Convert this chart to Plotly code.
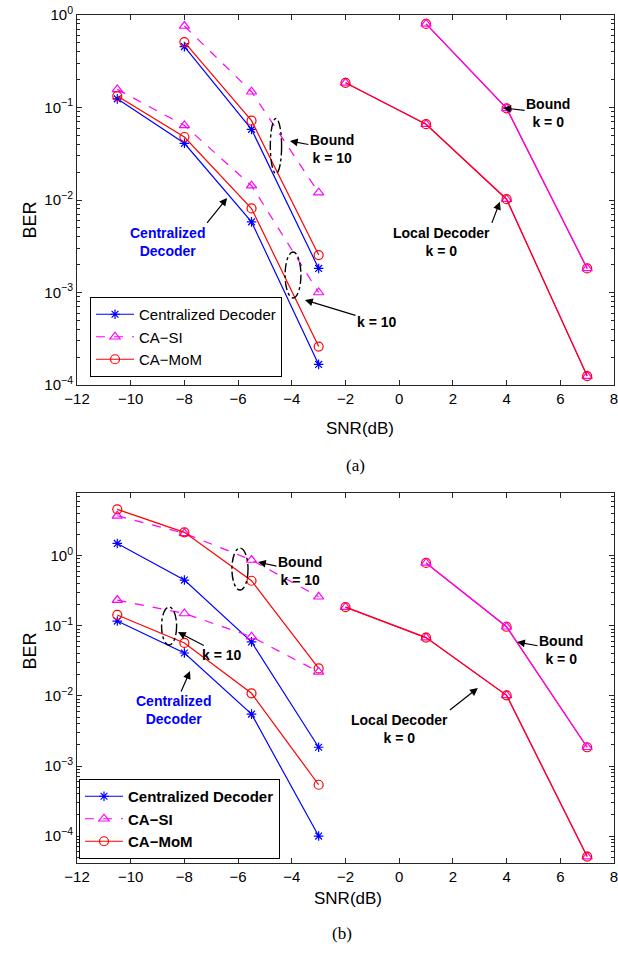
import plotly.graph_objects as go

# ---------------- data ----------------
snr_k10 = [-10.5, -8, -5.5, -3]
snr_bound10_a = [-8, -5.5, -3]
snr_bound10_b = [-10.5, -8, -5.5, -3]
snr_local = [-2, 1, 4, 7]
snr_bound0 = [1, 4, 7]

# panel (a)
a_cd_k10 = [0.124, 0.041, 0.0058, 1.67e-4]
a_si_k10 = [0.157, 0.064, 0.0143, 0.001]
a_mom_k10 = [0.133, 0.048, 0.0081, 2.6e-4]
a_cd_b10 = [0.455, 0.058, 0.00182]
a_si_b10 = [0.76, 0.148, 0.012]
a_mom_b10 = [0.51, 0.072, 0.00254]
a_local = [0.185, 0.066, 0.0102, 1.25e-4]
a_bound0 = [0.80, 0.098, 0.00182]

# panel (b)
b_cd_b10 = [1.5, 0.45, 0.059, 0.00185]
b_si_b10 = [3.72, 2.09, 0.87, 0.26]
b_mom_b10 = [4.6, 2.16, 0.44, 0.0247]
b_cd_k10 = [0.117, 0.041, 0.0055, 1.0e-4]
b_si_k10 = [0.233, 0.15, 0.070, 0.022]
b_mom_k10 = [0.143, 0.057, 0.0109, 5.4e-4]
b_local = [0.185, 0.068, 0.0102, 5.1e-5]
b_bound0 = [0.79, 0.097, 0.00185]

legend_names = ["Centralized Decoder", "CA\u2212SI", "CA\u2212MoM"]
x_ticks = list(range(-12, 9, 2))
x_tick_text = [str(v).replace("-", "\u2212") for v in x_ticks]
y_major = [1e-4, 1e-3, 1e-2, 1e-1, 1]
y_major_text = ["10<sup>\u22124</sup>", "10<sup>\u22123</sup>", "10<sup>\u22122</sup>",
                "10<sup>\u22121</sup>", "10<sup>0</sup>"]

BLUE, MAG, RED = "#0000FF", "#FF00FF", "#FF0000"
FONT = "Liberation Sans, Arial, sans-serif"

W, H = 618, 957
fig = go.Figure()


def nm(i, leg):
    return legend_names[i] if leg == "legend" else "<b>" + legend_names[i] + "</b>"


def cd(x, y, xa, ya, show=False, leg="legend"):
    fig.add_trace(go.Scatter(x=x, y=y, xaxis=xa, yaxis=ya, mode="lines+markers",
                             name=nm(0, leg), legend=leg, showlegend=show,
                             line=dict(color=BLUE, width=1.2),
                             marker=dict(symbol="asterisk-open", size=8, color=BLUE,
                                         line=dict(color=BLUE, width=1.2))))


def si(x, y, xa, ya, show=False, leg="legend", dash="dash"):
    fig.add_trace(go.Scatter(x=x, y=y, xaxis=xa, yaxis=ya, mode="lines+markers",
                             name=nm(1, leg), legend=leg, showlegend=show,
                             line=dict(color=MAG, width=1.2, dash=dash),
                             marker=dict(symbol="triangle-up-open", size=9, color=MAG,
                                         line=dict(color=MAG, width=1.2))))


def mom(x, y, xa, ya, show=False, leg="legend"):
    fig.add_trace(go.Scatter(x=x, y=y, xaxis=xa, yaxis=ya, mode="lines+markers",
                             name=nm(2, leg), legend=leg, showlegend=show,
                             line=dict(color=RED, width=1.2),
                             marker=dict(symbol="circle-open", size=9, color=RED,
                                         line=dict(color=RED, width=1.2))))


# panel (a) traces
cd(snr_k10, a_cd_k10, "x", "y", True, "legend")
si(snr_k10, a_si_k10, "x", "y", True, "legend")
mom(snr_k10, a_mom_k10, "x", "y", True, "legend")
cd(snr_bound10_a, a_cd_b10, "x", "y")
si(snr_bound10_a, a_si_b10, "x", "y")
mom(snr_bound10_a, a_mom_b10, "x", "y")
mom(snr_bound0, a_bound0, "x", "y")
si(snr_bound0, a_bound0, "x", "y", dash="solid")
si(snr_local, a_local, "x", "y", dash="solid")
mom(snr_local, a_local, "x", "y")

# panel (b) traces
cd(snr_bound10_b, b_cd_b10, "x2", "y2", True, "legend2")
si(snr_bound10_b, b_si_b10, "x2", "y2", True, "legend2")
mom(snr_bound10_b, b_mom_b10, "x2", "y2", True, "legend2")
cd(snr_k10, b_cd_k10, "x2", "y2")
si(snr_k10, b_si_k10, "x2", "y2")
mom(snr_k10, b_mom_k10, "x2", "y2")
mom(snr_bound0, b_bound0, "x2", "y2")
si(snr_bound0, b_bound0, "x2", "y2", dash="solid")
si(snr_local, b_local, "x2", "y2", dash="solid")
mom(snr_local, b_local, "x2", "y2")


def minor_vals(lo, hi):
    v = []
    for e in range(lo, hi + 1):
        for m in range(2, 10):
            v.append(m * 10.0 ** e)
    return v


axis_common = dict(showline=True, linecolor="#262626", linewidth=1, mirror="allticks",
                   ticks="inside", ticklen=5, tickcolor="#262626", showgrid=False, zeroline=False,
                   automargin=False, ticklabeloverflow="allow",
                   tickfont=dict(family=FONT, size=15, color="black"))

xdom = [77 / W, 614 / W]
fig.update_layout(
    template="none",
    width=W, height=H, margin=dict(l=0, r=0, t=0, b=0, autoexpand=False),
    paper_bgcolor="white", plot_bgcolor="white",
    xaxis=dict(domain=xdom, range=[-12, 8], tickmode="array", tickvals=x_ticks, ticktext=x_tick_text,
               anchor="y", **axis_common),
    yaxis=dict(domain=[1 - 385 / H, 1 - 15 / H], type="log", range=[-4, 0], anchor="x",
               tickmode="array", tickvals=y_major, ticktext=y_major_text,
               minor=dict(tickmode="array", tickvals=minor_vals(-4, -1), ticks="inside", ticklen=3,
                          tickcolor="#262626", showgrid=False),
               **axis_common),
    xaxis2=dict(domain=xdom, range=[-12, 8], tickmode="array", tickvals=x_ticks, ticktext=x_tick_text,
                anchor="y2", **axis_common),
    yaxis2=dict(domain=[1 - 862.7 / H, 1 - 492.7 / H], type="log", range=[-4.38, 0.9], anchor="x2",
                tickmode="array", tickvals=y_major, ticktext=y_major_text,
                minor=dict(tickmode="array", tickvals=minor_vals(-5, 0), ticks="inside", ticklen=3,
                           tickcolor="#262626", showgrid=False),
                **axis_common),
    legend=dict(x=90 / W, y=1 - 377 / H, xanchor="left", yanchor="bottom", itemwidth=38,
                bgcolor="white", bordercolor="black", borderwidth=1,
                font=dict(family=FONT, size=15, color="black"), tracegroupgap=0),
    legend2=dict(x=79 / W, y=1 - 859 / H, xanchor="left", yanchor="bottom", itemwidth=38,
                 bgcolor="white", bordercolor="black", borderwidth=1,
                 font=dict(family=FONT, size=15, color="black"), tracegroupgap=0),
    showlegend=True,
)

ann = []
shapes = []


def callout(text, x, ly, ax, ay, xa, ya, color="black", xanchor="center", yanchor="middle"):
    # text placed at (ax, ay) pixels from the arrow tip (x, log10 y)
    ann.append(dict(text="<b>" + text + "</b>", x=x, y=ly, xref=xa, yref=ya, showarrow=True,
                    ax=ax, ay=ay, xanchor=xanchor, yanchor=yanchor, align="center",
                    arrowhead=2, arrowsize=1.3, arrowwidth=1.2, arrowcolor="black",
                    font=dict(family=FONT, size=14, color=color)))


def ellipse(x0, x1, ly0, ly1, xa, ya):
    # shapes on log axes take data values
    shapes.append(dict(type="circle", xref=xa, yref=ya, x0=x0, x1=x1, y0=10 ** ly0, y1=10 ** ly1,
                       line=dict(color="black", width=1.4, dash="dashdot")))


# panel (a) annotations
callout("Bound<br>k = 10", -4.07, -1.362, 42, 8, "x", "y")
ellipse(-4.80, -4.38, -1.714, -1.119, "x", "y")
callout("Bound<br>k = 0", 3.87, -1.005, 45, 5, "x", "y")
callout("Centralized<br>Decoder", -6.41, -1.978, -20, 25, "x", "y", color=BLUE,
        xanchor="right", yanchor="top")
callout("k = 10", -3.51, -3.081, 72, 22, "x", "y")
ellipse(-4.25, -3.66, -3.059, -2.562, "x", "y")
callout("Local Decoder<br>k = 0", 3.75, -2.02, -8, 21, "x", "y", xanchor="right", yanchor="top")

# panel (b) annotations
callout("Bound<br>k = 10", -5.26, -0.09, 42, 9, "x2", "y2")
ellipse(-6.23, -5.63, -0.489, 0.11, "x2", "y2")
ellipse(-8.85, -8.29, -1.274, -0.732, "x2", "y2")
callout("k = 10", -8.24, -1.088, 44, 23, "x2", "y2")
callout("Centralized<br>Decoder", -7.79, -1.646, -17, 39, "x2", "y2", color=BLUE)
callout("Local Decoder<br>k = 0", 2.93, -1.887, -28, 22, "x2", "y2", xanchor="right", yanchor="top")
callout("Bound<br>k = 0", 4.39, -1.231, 44, 8, "x2", "y2")


def paper_text(text, px, py, size, family=FONT, angle=0):
    ann.append(dict(text=text, x=px / W, y=1 - py / H, xref="paper", yref="paper",
                    showarrow=False, textangle=angle,
                    font=dict(family=family, size=size, color="black")))


paper_text("SNR(dB)", 360, 428, 17)
paper_text("SNR(dB)", 348, 910, 17)
paper_text("BER", 17, 200, 18, angle=-90)
paper_text("BER", 17, 672, 18, angle=-90)
paper_text("(a)", 355, 465, 17, family="Liberation Serif, Times New Roman, serif")
paper_text("(b)", 342, 945, 17, family="Liberation Serif, Times New Roman, serif")

fig.update_layout(annotations=ann, shapes=shapes)
fig.write_html("out.html")
